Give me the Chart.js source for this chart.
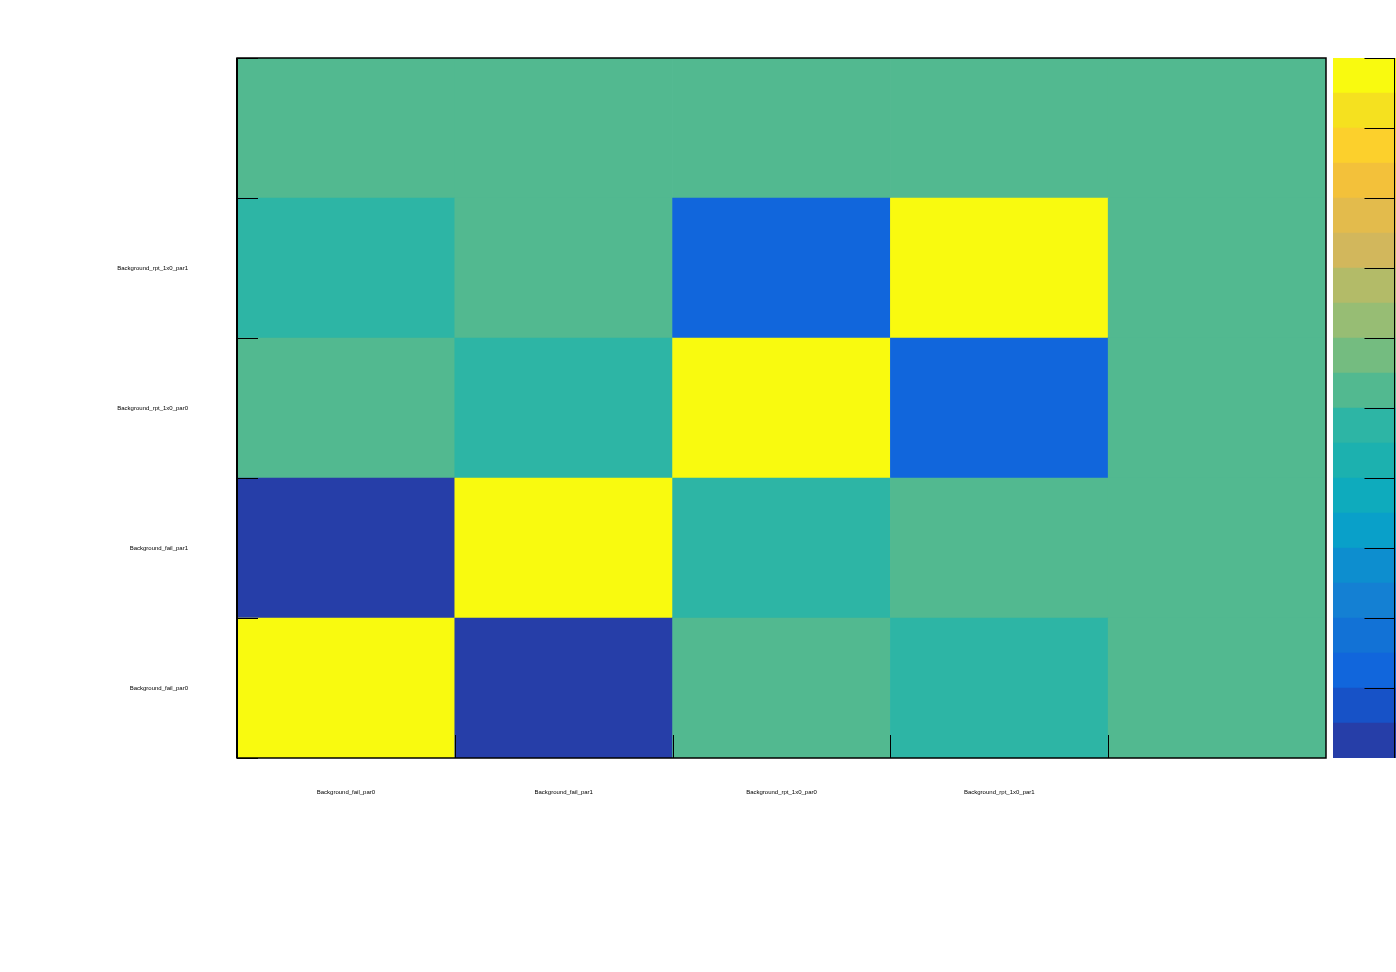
<!DOCTYPE html>
<html>
<head>
<meta charset="utf-8">
<script src="https://cdn.jsdelivr.net/npm/chart.js@4.4.1/dist/chart.umd.min.js"></script>
<style>
  html, body { margin: 0; padding: 0; background: #fff; }
  #wrap { position: relative; width: 1396px; height: 972px; overflow: hidden; }
  #main { position: absolute; left: 0; top: 0; }
  #palette { position: absolute; left: 1333px; top: 58px; }
</style>
</head>
<body>
<div id="wrap">
  <canvas id="main" width="1396" height="972"></canvas>
  <canvas id="palette" width="63" height="700"></canvas>
</div>
<script>
// категории по осям (снизу вверх для Y)
const xLabels = ['Background_fail_par0', 'Background_fail_par1', 'Background_rpt_1x0_par0', 'Background_rpt_1x0_par1', ''];
const yLabels = ['Background_fail_par0', 'Background_fail_par1', 'Background_rpt_1x0_par0', 'Background_rpt_1x0_par1', ''];

// корреляции, строки снизу вверх
const rowFailPar0 = [1, -1, 0.02, -0.03, 0];
const rowFailPar1 = [-1, 1, -0.03, 0.02, 0];
const rowRptPar0 = [0.02, -0.03, 1, -0.75, 0];
const rowRptPar1 = [-0.03, 0.02, -0.75, 1, 0];
const rowEmpty = [0, 0, 0, 0, 0];
const rows = [rowFailPar0, rowFailPar1, rowRptPar0, rowRptPar1, rowEmpty];

// палитра (20 уровней от -1 до 1)
const bandEdges = [-1, -0.9, -0.8, -0.7, -0.6, -0.5, -0.4, -0.3, -0.2, -0.1, 0, 0.1, 0.2, 0.3, 0.4, 0.5, 0.6, 0.7, 0.8, 0.9, 1];
const bandColors = [
  '#263ea8', '#1752c7', '#1166dc', '#1272d6', '#1480d3',
  '#0d8ecf', '#09a0c9', '#0eabbd', '#1cb1af', '#2db5a5',
  '#52b990', '#74bc80', '#97bd74', '#b3bb68', '#d2b75c',
  '#e3bb4c', '#f3c13a', '#fcd02c', '#f5e11f', '#f9fa0f'
];
const zTicks = [-1, -0.8, -0.6, -0.4, -0.2, 0, 0.2, 0.4, 0.6, 0.8, 1];

function colorFor(v) {
  let i = 0;
  while (i < bandColors.length - 1 && v >= bandEdges[i + 1]) i++;
  return bandColors[i];
}

const labelFont = { family: "'Liberation Sans', Arial, Helvetica, sans-serif", size: 6 };

// рамка и засечки внутрь
const framePlugin = {
  id: 'frame',
  afterDraw(chart) {
    const { ctx, chartArea: a, scales } = chart;
    ctx.save();
    ctx.strokeStyle = '#000';
    ctx.lineWidth = 1;
    // засечки по Y
    for (let v = 0; v <= 5; v++) {
      const py = Math.round(scales.y.getPixelForValue(v)) + 0.5;
      ctx.beginPath();
      ctx.moveTo(a.left, py);
      ctx.lineTo(a.left + 21, py);
      ctx.stroke();
    }
    // засечки по X (границы категорий)
    for (let i = 1; i < xLabels.length; i++) {
      const px = Math.round((scales.x.getPixelForValue(i - 1) + scales.x.getPixelForValue(i)) / 2) + 0.5;
      ctx.beginPath();
      ctx.moveTo(px, a.bottom);
      ctx.lineTo(px, a.bottom - 23);
      ctx.stroke();
    }
    ctx.lineWidth = 1.5;
    ctx.strokeRect(a.left, a.top, a.right - a.left, a.bottom - a.top);
    ctx.lineWidth = 2;
    ctx.beginPath();
    ctx.moveTo(a.left, a.top);
    ctx.lineTo(a.left, a.bottom);
    ctx.stroke();
    ctx.restore();
  }
};

new Chart(document.getElementById('main').getContext('2d'), {
  type: 'bar',
  data: {
    labels: xLabels,
    datasets: rows.map((r, k) => ({
      label: yLabels[k],
      data: r.map(() => 1),
      backgroundColor: r.map(colorFor),
      borderWidth: 0,
      barPercentage: 1,
      categoryPercentage: 1
    }))
  },
  options: {
    responsive: false,
    animation: false,
    layout: { padding: { left: 0, top: 58, right: 70, bottom: 0 } },
    plugins: { legend: { display: false }, tooltip: { enabled: false } },
    scales: {
      x: {
        stacked: true,
        grid: { display: false, drawTicks: false },
        border: { display: false },
        ticks: { font: labelFont, color: '#000', padding: 31, maxRotation: 0, autoSkip: false },
        afterFit(scale) { scale.height = 214; }
      },
      y: {
        stacked: true,
        min: 0,
        max: 5,
        grid: { display: false, drawTicks: false },
        border: { display: false },
        afterBuildTicks(scale) {
          scale.ticks = [0.5, 1.5, 2.5, 3.5, 4.5].map(v => ({ value: v }));
        },
        ticks: {
          font: labelFont,
          color: '#000',
          padding: 49,
          callback: v => yLabels[Math.floor(v)]
        },
        afterFit(scale) { scale.width = 237; }
      }
    }
  },
  plugins: [framePlugin]
});

// шкала цветов справа
const paletteAxisPlugin = {
  id: 'paletteAxis',
  afterDraw(chart) {
    const { ctx, chartArea: a, scales } = chart;
    ctx.save();
    ctx.strokeStyle = '#000';
    ctx.lineWidth = 1;
    const ax = a.right - 1.5;
    ctx.beginPath();
    ctx.moveTo(ax, a.top);
    ctx.lineTo(ax, a.bottom);
    ctx.stroke();
    zTicks.forEach(v => {
      const py = Math.round(scales.y.getPixelForValue(v)) + 0.5;
      ctx.beginPath();
      ctx.moveTo(ax, py);
      ctx.lineTo(ax - 30, py);
      ctx.stroke();
    });
    ctx.restore();
  }
};

new Chart(document.getElementById('palette').getContext('2d'), {
  type: 'bar',
  data: {
    labels: [''],
    datasets: bandColors.map((c, i) => ({
      data: [[bandEdges[i], bandEdges[i + 1]]],
      backgroundColor: c,
      borderWidth: 0,
      grouped: false,
      barPercentage: 1,
      categoryPercentage: 1
    }))
  },
  options: {
    responsive: false,
    animation: false,
    layout: { padding: 0 },
    plugins: { legend: { display: false }, tooltip: { enabled: false } },
    scales: {
      x: { display: false },
      y: { display: false, min: -1, max: 1 }
    }
  },
  plugins: [paletteAxisPlugin]
});
</script>
</body>
</html>
